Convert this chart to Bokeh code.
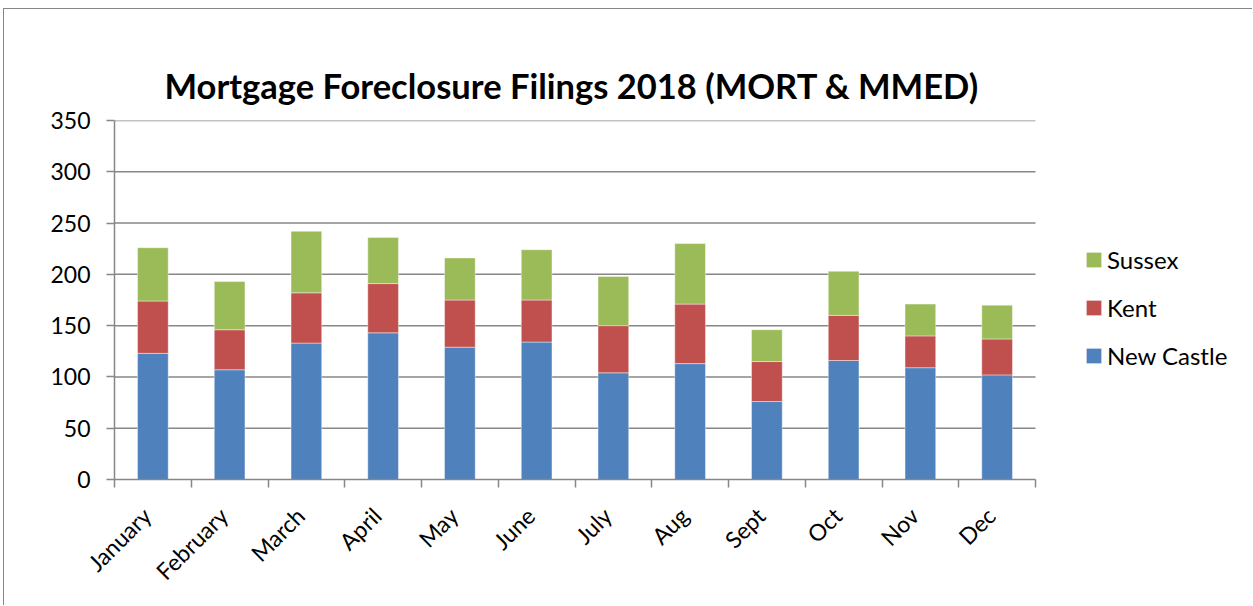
import math
from bokeh.plotting import figure
from bokeh.models import (ColumnDataSource, FixedTicker, Legend, LegendItem,
                          Range1d)
from bokeh.embed import file_html
from bokeh.resources import INLINE

# ---- data ----
months = ["January", "February", "March", "April", "May", "June",
          "July", "Aug", "Sept", "Oct", "Nov", "Dec"]
new_castle = [123, 107, 133, 143, 129, 134, 104, 113, 76, 116, 109, 102]
kent = [51, 39, 49, 48, 46, 41, 46, 58, 39, 44, 31, 35]
sussex = [52, 47, 60, 45, 41, 49, 48, 59, 31, 43, 31, 33]
series = ["New Castle", "Kent", "Sussex"]
colors = ["#4F81BD", "#C0504D", "#9BBB59"]
y_ticks = [0, 50, 100, 150, 200, 250, 300, 350]
title_text = "Mortgage Foreclosure Filings 2018 (MORT & MMED)"

FONT = "Lato"
GRAY = "#878787"

n = len(months)
xs = list(range(n))
x_lo, x_hi = -0.5, n - 0.5

# layout (pixels): data area is 921 px wide, frame extends further right to host the legend
DATA_W = 921
FRAME_W = 1131
x_end = x_lo + n * FRAME_W / DATA_W

source = ColumnDataSource(data={"x": xs, "New Castle": new_castle,
                                "Kent": kent, "Sussex": sussex})

p = figure(width=1249, height=597, output_backend="svg", toolbar_location=None,
           x_range=Range1d(x_lo, x_end),
           y_range=Range1d(y_ticks[0], y_ticks[-1]),
           min_border_left=110, min_border_right=1249 - 110 - FRAME_W,
           min_border_top=111, min_border_bottom=127)
p.styles = {"margin-left": "3px", "margin-top": "8px",
            "border-left": f"1px solid {GRAY}", "border-top": f"1px solid {GRAY}"}

# horizontal grid lines limited to the data area
grid_src = ColumnDataSource(data={"y": y_ticks[1:]})
p.segment(x0=x_lo, x1=x_hi, y0="y", y1="y", source=grid_src,
          line_color=GRAY, line_width=1.5)

renderers = p.vbar_stack(series, x="x", width=0.4, color=colors,
                         line_color="white", line_width=0.6, line_alpha=0.7,
                         source=source)

# title
p.title.text = title_text
p.title.text_font = FONT
p.title.text_font_style = "bold"
p.title.text_font_size = "34.5px"
p.title.align = "left"
p.title.offset = 50
p.title.text_color = "#000000"
p.title.standoff = 29

# axes
label_pos = [x - 0.08 for x in xs]
xa = p.xaxis[0]
xa.bounds = (x_lo, x_hi)
xa.ticker = FixedTicker(ticks=label_pos, minor_ticks=[i - 0.5 for i in range(n + 1)])
xa.major_label_overrides = {pos: m for pos, m in zip(label_pos, months)}
xa.major_label_orientation = math.pi / 4
xa.major_tick_line_color = None
xa.major_tick_out = 0
xa.major_tick_in = 0
xa.minor_tick_out = 8
xa.minor_tick_in = 0
xa.minor_tick_line_color = GRAY
xa.minor_tick_line_width = 1.5
xa.axis_line_color = GRAY
xa.axis_line_width = 1.5
xa.major_label_text_font = FONT
xa.major_label_text_font_size = "23px"
xa.major_label_text_color = "#000000"
xa.major_label_standoff = 24

ya = p.yaxis[0]
ya.ticker = FixedTicker(ticks=y_ticks)
ya.major_tick_out = 8
ya.major_tick_in = 0
ya.major_tick_line_color = GRAY
ya.major_tick_line_width = 1.5
ya.minor_tick_line_color = None
ya.axis_line_color = GRAY
ya.axis_line_width = 1.5
ya.major_label_text_font = FONT
ya.major_label_text_font_size = "23px"
ya.major_label_text_color = "#000000"
ya.major_label_standoff = 16

p.xgrid.grid_line_color = None
p.ygrid.grid_line_color = None
p.outline_line_color = None

legend = Legend(items=[LegendItem(label=s, renderers=[r])
                       for s, r in reversed(list(zip(series, renderers)))],
                location=(970, 109), orientation="vertical",
                glyph_width=19, glyph_height=19, label_standoff=4,
                spacing=19, padding=0, margin=0,
                border_line_color=None, background_fill_alpha=0,
                label_text_font=FONT, label_text_font_size="24px",
                label_text_color="#000000")
p.add_layout(legend, "center")

open("out.html", "w").write(file_html(p, INLINE))
